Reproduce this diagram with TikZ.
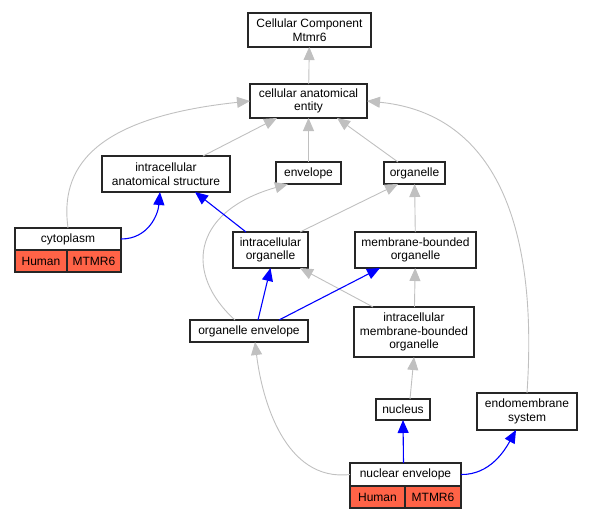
\documentclass[tikz,border=0pt]{standalone}
\usepackage{fontspec}
\setmainfont{Liberation Sans}
\usetikzlibrary{calc,arrows.meta,positioning}
\definecolor{genered}{HTML}{FF6347}
\definecolor{isagray}{HTML}{C0C0C0}
\tikzstyle{term node}=[draw=black!85,line width=1.2pt,fill=white,inner sep=0,outer sep=0,align=center,font=\fontsize{12}{13.5}\selectfont]
\tikzstyle{gene node}=[term node,fill=genered]
\tikzstyle{isa}=[draw=isagray,line width=0.9pt,-{Triangle[length=13pt,width=11pt]}]
\tikzstyle{partof}=[draw=blue,line width=1.1pt,-{Triangle[length=13pt,width=11pt]}]

\begin{document}
\begin{tikzpicture}[x=1pt,y=-1pt]
		\useasboundingbox (0,0) rectangle (592,520);

		\node(cc)[term node,minimum width=123,minimum height=34] at (309.5,30) {Cellular Component\\Mtmr6};
		\node(cae)[term node,minimum width=117,minimum height=34] at (308.5,101) {cellular anatomical\\entity};
		\node(ias)[term node,minimum width=128,minimum height=36] at (166,174) {intracellular\\anatomical structure};
		\node(env)[term node,minimum width=65,minimum height=22] at (308.5,173) {envelope};
		\node(org)[term node,minimum width=61,minimum height=22] at (414.5,173) {organelle};
		\node(cyto)[term node,minimum width=106,minimum height=22] at (68,239) {cytoplasm};
		\node(cytoh)[gene node,minimum width=52,minimum height=22,anchor=north west] at (cyto.south west) {Human};
		\node(cytom)[gene node,minimum width=54,minimum height=22,right=0 of cytoh] {MTMR6};
		\node(io)[term node,minimum width=75,minimum height=36] at (270.5,250) {intracellular\\organelle};
		\node(mbo)[term node,minimum width=121,minimum height=36] at (415.5,250) {membrane-bounded\\organelle};
		\node(oe)[term node,minimum width=118,minimum height=22] at (249,331) {organelle envelope};
		\node(imbo)[term node,minimum width=120,minimum height=50] at (414,332) {intracellular\\membrane-bounded\\organelle};
		\node(nuc)[term node,minimum width=54,minimum height=21] at (403,409.5) {nucleus};
		\node(es)[term node,minimum width=100,minimum height=37] at (527,411.5) {endomembrane\\system};
		\node(ne)[term node,minimum width=111,minimum height=23] at (405.5,474.5) {nuclear envelope};
		\node(neh)[gene node,minimum width=55,minimum height=22,anchor=north west] at (ne.south west) {Human};
		\node(nem)[gene node,minimum width=56,minimum height=22,right=0 of neh] {MTMR6};

		% is_a
		\draw[isa] (cae) -- (cc);
		\draw[isa] (ias.north) ++(37,0) -- ($(cae.south west)+(27,0)$);
		\draw[isa] (env) -- (cae);
		\draw[isa] ($(org.north west)+(14,0)$) -- ($(cae.south east)+(-30,0)$);
		\draw[isa] (cyto.north) .. controls (60,170) and (90,118) .. (cae.west);
		\draw[isa] (es.north) .. controls (540,200) and (480,112) .. (cae.east);
		\draw[isa] ($(io.north east)+(-8,0)$) -- ($(org.south west)+(14,0)$);
		\draw[isa] (mbo) -- (org);
		\draw[isa] ($(oe.north)+(-14,0)$) .. controls (185,275) and (190,212) .. ($(env.south west)+(12,0)$);
		\draw[isa] ($(imbo.north west)+(19,0)$) -- ($(io.south east)+(-8,0)$);
		\draw[isa] (imbo) -- (mbo);
		\draw[isa] (nuc.north) ++(7,0) -- (imbo.south);
		\draw[isa] (ne.west) .. controls (285,482) and (262,400) .. ($(oe.south)+(6,0)$);

		% part_of
		\draw[partof] (cyto.east) .. controls (148,239) and (158,215) .. ($(ias.south)+(-6,0)$);
		\draw[partof] ($(io.north west)+(13,0)$) -- ($(ias.south east)+(-35,0)$);
		\draw[partof] ($(oe.north)+(9,0)$) -- (io.south);
		\draw[partof] ($(oe.north)+(30,0)$) -- ($(mbo.south west)+(25,0)$);
		\draw[partof] (ne.north) ++(-2,0) -- (nuc.south);
		\draw[partof] (ne.east) .. controls (490,475) and (505,450) .. ($(es.south)+(-11,0)$);

\end{tikzpicture}
\end{document}
